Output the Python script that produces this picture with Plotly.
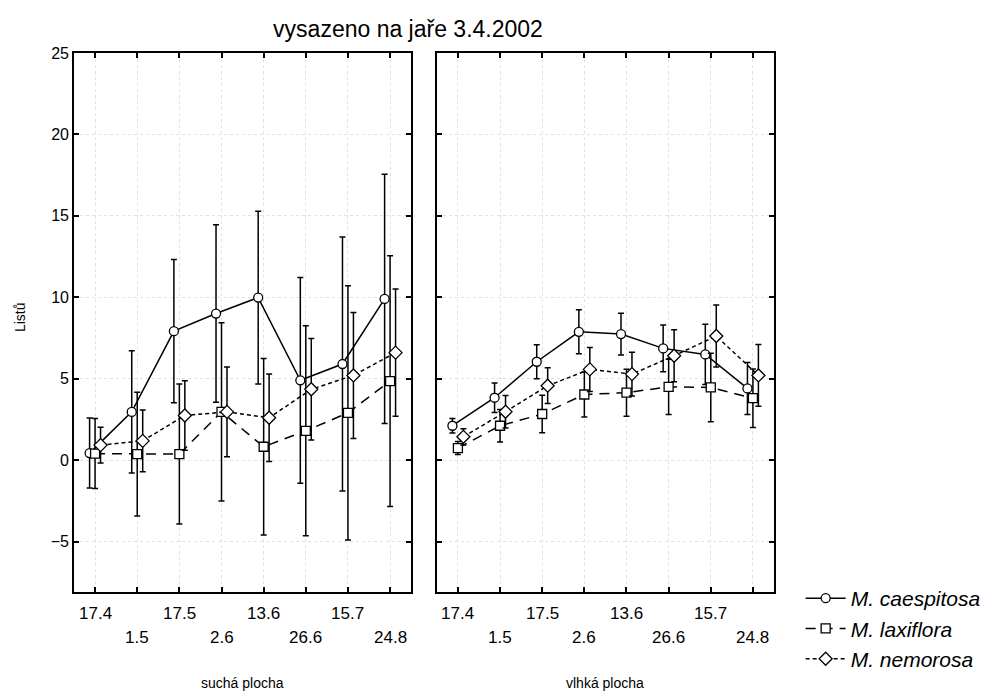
import numpy as np
import plotly.graph_objects as go

# ---------------- data ----------------
dates = ["17.4", "1.5", "17.5", "2.6", "13.6", "26.6", "15.7", "24.8"]
panels = ["suchá plocha", "vlhká plocha"]
y_ticks = [-5, 0, 5, 10, 15, 20, 25]

# suchá plocha (dry)
caes_dry = [0.43, 2.96, 7.92, 9.0, 9.98, 4.9, 5.9, 9.9]
caes_dry_err = [2.15, 3.75, 4.4, 5.45, 5.3, 6.32, 7.8, 7.65]
lax_dry = [0.4, 0.37, 0.37, 2.96, 0.82, 1.8, 2.9, 4.85]
lax_dry_err = [2.15, 3.8, 4.3, 5.47, 5.42, 6.45, 7.8, 7.7]
nem_dry = [0.92, 1.18, 2.74, 2.96, 2.6, 4.35, 5.2, 6.6]
nem_dry_err = [1.1, 1.9, 2.13, 2.75, 2.68, 3.12, 3.87, 3.9]

# vlhká plocha (wet)
caes_wet = [2.11, 3.83, 6.04, 7.88, 7.74, 6.86, 6.49, 4.4]
caes_wet_err = [0.45, 0.9, 1.05, 1.35, 1.28, 1.43, 1.85, 1.6]
lax_wet = [0.74, 2.11, 2.83, 4.03, 4.14, 4.5, 4.46, 3.8]
lax_wet_err = [0.4, 1.0, 1.15, 1.38, 1.44, 1.7, 2.1, 1.8]
nem_wet = [1.43, 2.97, 4.57, 5.57, 5.28, 6.41, 7.62, 5.2]
nem_wet_err = [0.5, 1.0, 1.1, 1.35, 1.35, 1.6, 1.9, 1.9]

series_names = ["M. caespitosa", "M. laxiflora", "M. nemorosa"]

# ---------------- styling ----------------
FONT = "Liberation Sans, Arial, sans-serif"
symbols = ["circle", "square", "diamond"]
dashes = ["solid", "10px,7px", "4px,3px"]
offsets = [-0.13, 0.0, 0.13]

dry = [(caes_dry, caes_dry_err), (lax_dry, lax_dry_err), (nem_dry, nem_dry_err)]
wet = [(caes_wet, caes_wet_err), (lax_wet, lax_wet_err), (nem_wet, nem_wet_err)]

fig = go.Figure()
idx = np.arange(len(dates))
for p, (data, xa, ya) in enumerate([(dry, "x", "y"), (wet, "x2", "y2")]):
    for s in range(3):
        vals, err = data[s]
        fig.add_trace(go.Scatter(
            x=idx + offsets[s], y=vals, xaxis=xa, yaxis=ya,
            mode="lines+markers",
            name="<i>" + series_names[s] + "</i>",
            legendgroup=series_names[s], showlegend=(p == 0),
            line=dict(color="black", width=1.5, dash=dashes[s]),
            marker=dict(symbol=symbols[s], size=9 if s != 2 else 10, color="white",
                        line=dict(color="black", width=1.3)),
            error_y=dict(type="data", array=err, visible=True, color="black",
                         thickness=1.5, width=3),
        ))

L, R, T, B = 74, 215, 53, 101
W, H = 998, 693
pw = W - L - R
gap_left = (415.5 - L) / pw
gap_right = (441.5 - L) / pw

GRID = "#e2e2e2"
axis_common = dict(
    range=[-0.5, 7.5], tickvals=list(idx), showticklabels=False,
    ticks="inside", ticklen=5, tickwidth=1.5, tickcolor="black",
    showline=True, linecolor="black", linewidth=1.6, mirror="ticks",
    showgrid=True, gridcolor=GRID, griddash="dot", gridwidth=1,
    zeroline=False, fixedrange=True,
)
yaxis_common = dict(
    range=[-8.1, 25], tickvals=y_ticks,
    ticks="inside", ticklen=5, tickwidth=1.5, tickcolor="black",
    showline=True, linecolor="black", linewidth=1.6, mirror="ticks",
    showgrid=True, gridcolor=GRID, griddash="dot", gridwidth=1,
    zeroline=False, tickfont=dict(size=16, color="black", family=FONT),
)

annotations = []
for xa in ["x", "x2"]:
    for i, d in enumerate(dates):
        annotations.append(dict(
            x=i, xref=xa, xanchor="center", y=0, yref="paper", yanchor="middle",
            yshift=-21 if i % 2 == 0 else -45, text=d, showarrow=False,
            font=dict(size=17, color="black", family=FONT)))
for dom_c, title in [((0 + gap_left) / 2, panels[0]), ((gap_right + 1) / 2, panels[1])]:
    annotations.append(dict(
        x=dom_c, xref="paper", xanchor="center", y=0, yref="paper", yanchor="middle",
        yshift=-91, text=title, showarrow=False,
        font=dict(size=14, color="black", family=FONT)))
annotations.append(dict(
    x=0, xref="paper", xanchor="center", xshift=-54, y=0.51, yref="paper",
    yanchor="middle", textangle=-90,
    text="Listů", showarrow=False, font=dict(size=14, color="black", family=FONT)))

fig.update_layout(
    width=W, height=H,
    margin=dict(l=L, r=R, t=T, b=B),
    paper_bgcolor="white", plot_bgcolor="white",
    font=dict(family=FONT, color="black"),
    title=dict(text="vysazeno na jaře 3.4.2002", x=408 / W, xanchor="center",
               y=1 - 29 / H, yanchor="middle", font=dict(size=23, family=FONT)),
    xaxis=dict(domain=[0, gap_left], anchor="y", **axis_common),
    xaxis2=dict(domain=[gap_right, 1], anchor="y2", **axis_common),
    yaxis=dict(domain=[0, 1], anchor="x", **yaxis_common),
    yaxis2=dict(domain=[0, 1], anchor="x2", matches="y", **{**yaxis_common, "showticklabels": False}),
    legend=dict(x=(810 - L) / pw, xanchor="left", y=0.026, yanchor="top",
                font=dict(size=21, family=FONT, color="black"),
                bgcolor="rgba(0,0,0,0)", tracegroupgap=0, itemwidth=40),
    annotations=annotations,
    showlegend=True,
)

fig.write_html("out.html")
